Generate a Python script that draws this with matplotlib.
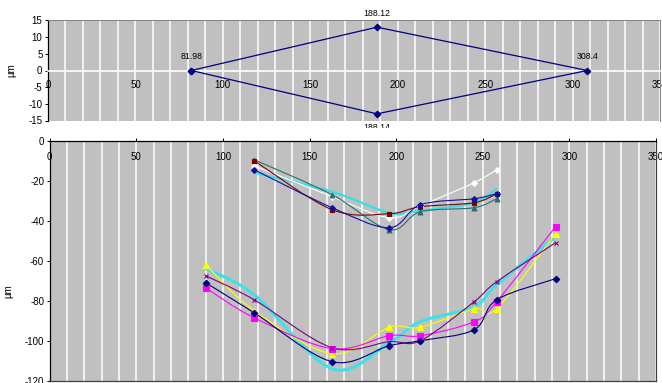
import numpy as np
import matplotlib
matplotlib.use('Agg')
import matplotlib.pyplot as plt
from matplotlib.path import Path
from matplotlib.patches import PathPatch
from matplotlib.ticker import MultipleLocator
from matplotlib.transforms import Bbox, TransformedBbox

plt.rcParams['font.family'] = ['Liberation Sans', 'DejaVu Sans']
plt.rcParams['axes.unicode_minus'] = False

# Outline (top view), x in mm, deviation in um
outline_x = [81.98, 188.12, 308.4, 188.14, 81.98]
outline_y = [0, 13, 0, -13, 0]
outline_labels = ['81.98', '188.12', '308.4', '188.14']

# Upper profile group
x_upper = [118, 163, 196, 214, 245, 258]
up_navy = [-14.5, -33.5, -43.5, -32, -29, -26.5]
up_maroon = [-10, -34.5, -36.5, -33, -31, -26.5]
up_white = [-12.5, -28, -38.5, -32.5, -21, -14.5]
up_cyan = [-16, -25.5, -36, -35, -31, -24]
up_teal = [-9.5, -27, -44.5, -35.5, -33.5, -29]

# Lower profile group
x_lower = [90, 118, 163, 196, 214, 245, 258, 292]
low_navy = [-71, -86, -110.5, -102.5, -100, -94.5, -79.5, -69]
low_magenta = [-73.5, -88.5, -104, -97.5, -97.5, -90.5, -80.5, -43]
low_yellow = [-62, -85, -106.5, -93.3, -93.3, -84, -84, -46.5]
low_cyan = [-64, -77, -114, -101, -90.5, -83, -72, -48]
low_purple = [-67.5, -79.5, -103.5, -100.5, -100, -80.5, -70.5, -51]

BG = '#c0c0c0'


def smooth_path(x, y):
    # catmull-rom through the points, as cubic bezier segments
    pts = np.column_stack([x, y]).astype(float)
    ext = np.vstack([pts[0], pts, pts[-1]])
    verts = [pts[0]]
    codes = [Path.MOVETO]
    for i in range(len(pts) - 1):
        p0, p1, p2, p3 = ext[i], ext[i + 1], ext[i + 2], ext[i + 3]
        verts += [p1 + (p2 - p0) / 6, p2 - (p3 - p1) / 6, p2]
        codes += [Path.CURVE4] * 3
    return Path(verts, codes)


def draw_series(ax, x, y, color, lw=0.8, marker=None, ms=3.5, mec=None, z=3):
    ax.add_patch(PathPatch(smooth_path(x, y), fill=False, edgecolor=color, lw=lw, zorder=z))
    if marker:
        ax.plot(x, y, ls='none', marker=marker, ms=ms, color=color,
                mec=mec or color, mew=0.8, zorder=z + 0.1)


fig = plt.figure(figsize=(6.62, 3.83), dpi=100)

### TOP: outline ###
ax1 = fig.add_axes([48 / 662, (383 - 120.5) / 383, 612 / 662, 100 / 383])
ax1.set_facecolor(BG)
ax1.set_xlim(0, 350)
ax1.set_ylim(-15, 15)
ax1.xaxis.set_major_locator(MultipleLocator(50))
ax1.xaxis.set_minor_locator(MultipleLocator(10))
ax1.grid(axis='x', which='both', color='white', lw=1.1)
ax1.spines['bottom'].set_position(('data', 0))
ax1.spines['bottom'].set_color('white')
ax1.spines['bottom'].set_linewidth(1.2)
for s in ['top', 'right']:
    ax1.spines[s].set_color('#808080')
    ax1.spines[s].set_linewidth(0.7)
ax1.spines['left'].set_color('black')
ax1.spines['left'].set_linewidth(0.9)
ax1.tick_params(axis='x', which='both', length=0, pad=6.5, labelsize=7)
ax1.set_yticks(range(-15, 16, 5))
ax1.tick_params(axis='y', length=2.5, width=0.7, pad=1.5, labelsize=7)
ax1.set_ylabel('µm', fontsize=7)
ax1.yaxis.set_label_coords(-0.051, 0.5)

ax1.plot(outline_x, outline_y, color='#000080', lw=0.9, marker='D', ms=3.2, zorder=3)
for i, lbl in enumerate(outline_labels[:3]):
    ax1.annotate(lbl, (outline_x[i], outline_y[i]), xytext=(0, 6.5), textcoords='offset points',
                 ha='center', va='bottom', fontsize=6.3, annotation_clip=False)
# label under the lower point is cut off by the chart below
low_lbl = ax1.annotate(outline_labels[3], (outline_x[3], outline_y[3]), xytext=(0, -6.5),
                       textcoords='offset points', ha='center', va='top', fontsize=6.3,
                       annotation_clip=False)
low_lbl.set_clip_path(None)
low_lbl.set_clip_box(TransformedBbox(Bbox([[0, (383 - 127.5) / 383], [1, 1]]), fig.transFigure))
low_lbl.set_clip_on(True)

### BOTTOM: profiles ###
ax2 = fig.add_axes([49.7 / 662, (383 - 380.7) / 383, 606.3 / 662, 240 / 383])
ax2.set_facecolor(BG)
ax2.set_xlim(0, 350)
ax2.set_ylim(-120, 0)
ax2.xaxis.tick_top()
ax2.xaxis.set_major_locator(MultipleLocator(50))
ax2.xaxis.set_minor_locator(MultipleLocator(10))
ax2.grid(axis='x', which='both', color='white', lw=1.1)
ax2.tick_params(axis='x', which='major', direction='out', length=2.5, width=0.7,
                pad=-17.8, labelsize=7)
ax2.tick_params(axis='x', which='minor', length=0)
ax2.set_yticks(range(-120, 1, 20))
ax2.tick_params(axis='y', length=2.5, width=0.7, pad=1.5, labelsize=7)
for s in ['top', 'left']:
    ax2.spines[s].set_color('black')
    ax2.spines[s].set_linewidth(0.9)
for s in ['right', 'bottom']:
    ax2.spines[s].set_color('#404040')
    ax2.spines[s].set_linewidth(0.9)
ax2.set_ylabel('µm', fontsize=7)
ax2.yaxis.set_label_coords(-0.0597, 0.374)

# upper group
draw_series(ax2, x_upper, up_cyan, '#33e0e8', lw=1.6, z=2.5)
draw_series(ax2, x_upper, up_white, 'white', marker='D', ms=3)
draw_series(ax2, x_upper, up_teal, '#2a6f6f', marker='^', ms=3.5)
draw_series(ax2, x_upper, up_maroon, '#800000', marker='s', ms=3)
draw_series(ax2, x_upper, up_navy, '#1010a0', marker='D', ms=3)

# lower group
draw_series(ax2, x_lower, low_cyan, '#40e0e8', lw=2.2, z=2.5)
draw_series(ax2, x_lower, low_yellow, '#ffff00', marker='^', ms=4)
draw_series(ax2, x_lower, low_magenta, '#ff00ff', marker='s', ms=3.8)
draw_series(ax2, x_lower, low_purple, '#800080', marker='x', ms=3.5)
draw_series(ax2, x_lower, low_navy, '#000080', marker='D', ms=3.3)

fig.savefig('out.png', dpi=100)
